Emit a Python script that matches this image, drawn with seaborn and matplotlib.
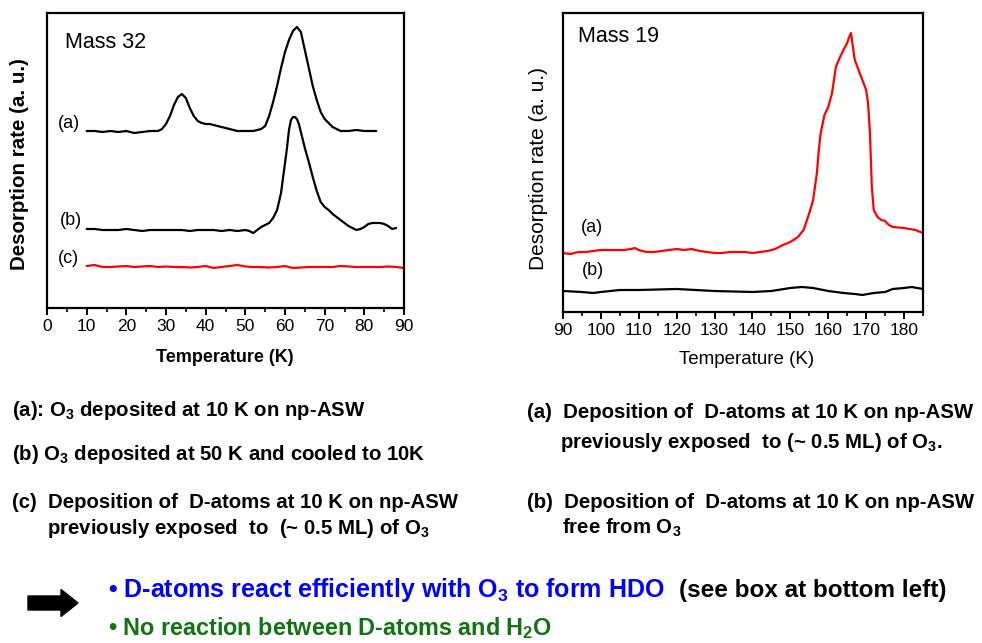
import numpy as np
import matplotlib
matplotlib.use("Agg")
import matplotlib.pyplot as plt
import seaborn as sns
from matplotlib.patches import FancyArrow
from matplotlib.ticker import MultipleLocator

# -----------------------------
# DATA (arbitrary units)
# -----------------------------
# Mass 32, trace (a): O3 deposited at 10 K
t32_a = [10, 12, 14, 16, 18, 20, 22, 24, 26, 28, 29, 30, 31, 32, 33, 34, 35, 36, 37,
         38, 39, 40, 41, 42, 43, 44, 46, 48, 50, 52, 54, 55, 56, 57, 58, 59, 60, 61,
         62, 63, 64, 65, 66, 67, 68, 69, 70, 71, 72, 73, 74, 76, 78, 80, 82, 83]
y32_a = [177, 177, 176, 177, 176, 177, 175, 176, 177, 177, 179, 184, 192, 203, 211,
         214, 210, 200, 192, 187, 185, 184, 184, 183, 182, 181, 179, 177, 177, 177,
         179, 182, 192, 206, 222, 240, 256, 268, 277, 281, 276, 258, 240, 222, 208,
         196, 189, 185, 181, 179, 177, 177, 178, 177, 177, 177]

# Mass 32, trace (b): O3 deposited at 50 K, cooled to 10 K
t32_b = [10, 12, 14, 16, 18, 20, 22, 24, 26, 28, 30, 32, 34, 36, 38, 40, 42, 44, 46,
         48, 50, 51, 52, 53, 54, 55, 56, 57, 58, 59, 60, 60.5, 61, 61.5, 62, 62.5, 63,
         63.5, 64, 65, 66, 67, 68, 69, 70, 71, 72, 73, 74, 75, 76, 77, 78, 79, 80, 81,
         82, 83, 84, 85, 86, 87, 88]
y32_b = [79, 79, 78, 78, 78, 79, 78, 77, 78, 78, 78, 78, 78, 77, 78, 78, 78, 77, 78,
         77, 78, 77, 75, 78, 81, 83, 85, 90, 98, 115, 145, 160, 178, 188, 191, 191, 189,
         184, 176, 160, 146, 131, 117, 106, 101, 98, 94, 91, 88, 85, 82, 80, 78, 79, 81,
         84, 85, 85, 85, 84, 82, 79, 80]

# Mass 32, trace (c): D-atoms on O3-exposed np-ASW
t32_c = [10, 12, 14, 16, 18, 20, 22, 24, 26, 28, 30, 32, 34, 36, 38, 40, 42, 44, 46,
         48, 50, 52, 54, 56, 58, 60, 62, 64, 66, 68, 70, 72, 74, 76, 78, 80, 82, 84,
         86, 88, 90]
y32_c = [42, 43, 41, 41, 41.5, 42, 41, 41.5, 42, 41, 41.5, 41, 41, 40.5, 41, 42, 40,
         41, 42, 43, 41.5, 41, 41, 40.5, 41, 42, 40, 40.5, 41, 41, 41, 41, 42, 41.5,
         41, 41, 41, 41, 41.5, 41, 40]

# Mass 19, trace (a): D-atoms on O3-exposed np-ASW
t19_a = [90, 92, 94, 96, 98, 100, 102, 104, 106, 108, 109, 110, 112, 114, 116, 118,
         120, 122, 124, 126, 128, 130, 132, 134, 136, 138, 140, 142, 144, 146, 148,
         150, 152, 153.5, 155, 156, 157, 157.5, 158, 159, 160, 161, 162, 163, 164,
         165, 165.5, 166, 166.5, 167, 168, 169, 170, 170.5, 171, 171.5, 172, 173, 174,
         175, 176, 177, 180, 183, 185]
y19_a = [59, 58, 60, 60, 61, 62, 62, 62, 62, 63, 64, 62, 60, 60, 61, 62, 63, 62, 63,
         61, 60, 59, 59, 60, 60, 60, 59, 60, 61, 63, 67, 70, 75, 82, 99, 112, 139, 162,
         179, 197, 205, 219, 245, 254, 262, 269, 275, 279, 265, 252, 242, 232, 222, 209,
         179, 125, 102, 95, 92, 91, 87, 85, 84, 82, 79]

# Mass 19, trace (b): D-atoms on O3-free np-ASW
t19_b = [90, 95, 98, 100, 105, 110, 120, 130, 140, 145, 150, 153, 156, 160, 164, 167,
         169, 172, 175, 177, 180, 182, 185]
y19_b = [21, 20, 19, 20, 22, 22, 23, 21, 20, 21, 24, 25, 24, 21, 19, 18, 17, 19, 20,
         23, 24, 25, 23]

notes_left = [
    (12, 410, "(a): O$_3$ deposited at 10 K on np-ASW"),
    (12, 455, "(b) O$_3$ deposited at 50 K and cooled to 10K"),
    (12, 502, "(c)  Deposition of  D-atoms at 10 K on np-ASW"),
    (47, 528, "previously exposed  to  (~ 0.5 ML) of O$_3$"),
]
notes_right = [
    (527, 412, "(a)  Deposition of  D-atoms at 10 K on np-ASW"),
    (560, 442, "previously exposed  to (~ 0.5 ML) of O$_3$."),
    (527, 502, "(b)  Deposition of  D-atoms at 10 K on np-ASW"),
    (562, 528, "free from O$_3$"),
]

# -----------------------------
# STYLE
# -----------------------------
sns.set_style("white", {"text.color": "black", "axes.labelcolor": "black",
                        "xtick.color": "black", "axes.edgecolor": "black"})
plt.rcParams["font.family"] = ["Liberation Sans", "DejaVu Sans"]
plt.rcParams["text.color"] = "black"
plt.rcParams["mathtext.fontset"] = "custom"
plt.rcParams["mathtext.rm"] = "Liberation Sans"
plt.rcParams["mathtext.bf"] = "Liberation Sans:bold"
plt.rcParams["mathtext.default"] = "bf"

W, H = 982, 643
fig = plt.figure(figsize=(W / 100, H / 100), dpi=100)


def fx(px):
    return px / W


def fy(py):
    return 1 - py / H


def style_axis(ax, lo, hi, major, minor):
    ax.set_xlim(lo, hi)
    ax.xaxis.set_major_locator(MultipleLocator(major))
    ax.xaxis.set_minor_locator(MultipleLocator(minor))
    ax.set_yticks([])
    for s in ax.spines.values():
        s.set_linewidth(1.6)
        s.set_color("black")
    ax.tick_params(axis="x", which="major", direction="out", length=5, width=1.4,
                   labelsize=12.5, pad=3, bottom=True, colors="black")
    ax.tick_params(axis="x", which="minor", direction="out", length=3, width=1.2,
                   bottom=True, colors="black")
    ax.set_xlabel("")
    ax.set_ylabel("")


# -----------------------------
# LEFT PANEL: MASS 32
# -----------------------------
ax1 = fig.add_axes([fx(47), fy(308), fx(404 - 47), (308 - 13) / H])
sns.lineplot(x=t32_a, y=y32_a, ax=ax1, color="black", lw=1.6)
sns.lineplot(x=t32_b, y=y32_b, ax=ax1, color="black", lw=1.6)
sns.lineplot(x=t32_c, y=y32_c, ax=ax1, color="#ff0000", lw=1.6)
ax1.set_ylim(0, 295)
style_axis(ax1, 0, 90, 10, 5)

fig.text(fx(65), fy(43), "Mass 32", fontsize=15.5, va="center", ha="left")
fig.text(fx(58), fy(124), "(a)", fontsize=13, va="center")
fig.text(fx(60), fy(221), "(b)", fontsize=13, va="center")
fig.text(fx(58), fy(258), "(c)", fontsize=13, va="center")
fig.text(fx(225), fy(358), "Temperature (K)", fontsize=13, fontweight="bold",
         ha="center", va="center")
fig.text(fx(20), fy(164), "Desorption rate (a. u.)", fontsize=14.8,
         fontweight="bold", rotation=90, ha="center", va="center")

# -----------------------------
# RIGHT PANEL: MASS 19
# -----------------------------
ax2 = fig.add_axes([fx(563), fy(312), fx(923 - 563), (312 - 13) / H])
sns.lineplot(x=t19_a, y=y19_a, ax=ax2, color="#ff0000", lw=1.6)
sns.lineplot(x=t19_b, y=y19_b, ax=ax2, color="black", lw=1.6)
ax2.set_ylim(0, 299)
style_axis(ax2, 90, 185, 10, 5)

fig.text(fx(578), fy(36), "Mass 19", fontsize=15.5, va="center", ha="left")
fig.text(fx(581), fy(227), "(a)", fontsize=13, va="center")
fig.text(fx(582), fy(271), "(b)", fontsize=13, va="center")
fig.text(fx(747), fy(360), "Temperature (K)", fontsize=13.5, ha="center", va="center")
fig.text(fx(539), fy(168), "Desorption rate (a. u.)", fontsize=15,
         rotation=90, ha="center", va="center")

# -----------------------------
# CAPTIONS
# -----------------------------
for x, y, s in notes_left + notes_right:
    fig.text(fx(x), fy(y), s, fontsize=14.7, fontweight="bold", va="center", ha="left")

arrow = FancyArrow(fx(28), fy(603), fx(50 - 17), 0, width=14 / H,
                   head_width=27 / H, head_length=fx(17), length_includes_head=False,
                   color="black", transform=fig.transFigure)
fig.add_artist(arrow)

blue = fig.text(fx(108), fy(590), "\u2022 D-atoms react efficiently with O$_3$ to form HDO",
                fontsize=18, fontweight="bold", color="#0000ff", va="center", ha="left")
fig.canvas.draw()
bb = blue.get_window_extent()
fig.text(bb.x1 / W + fx(14), fy(590), "(see box at bottom left)", fontsize=17.5,
         fontweight="bold", color="black", va="center", ha="left")
fig.text(fx(108), fy(628), "\u2022 No reaction between D-atoms and H$_2$O",
         fontsize=16.8, fontweight="bold", color="#127312", va="center", ha="left")

fig.savefig("out.png", dpi=100)
